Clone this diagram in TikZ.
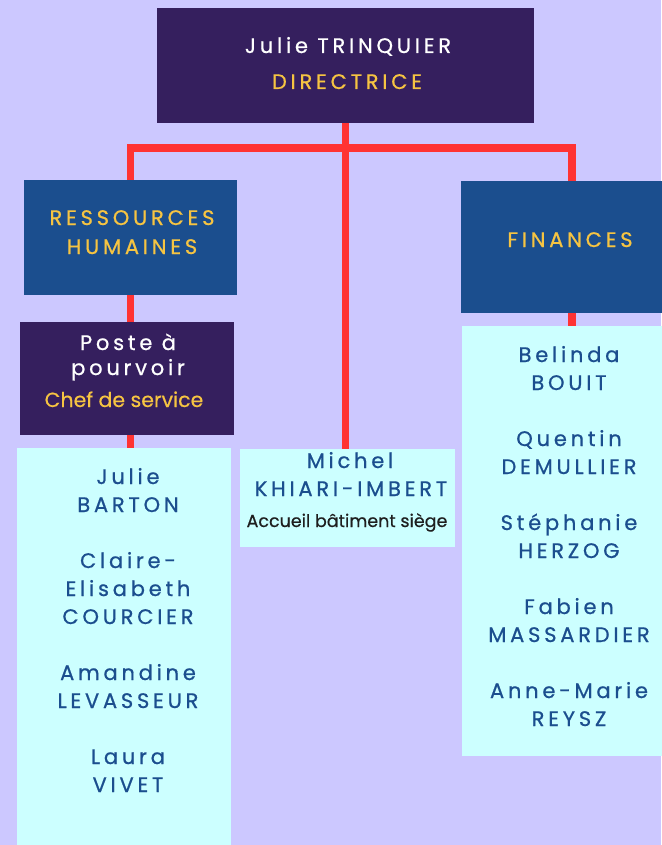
\documentclass[tikz,border=0pt]{standalone}
\usepackage{fontspec}
\setmainfont{Poppins}[FakeBold=0.5]
\newfontfamily\spaced{Poppins}[LetterSpace=18,FakeBold=0.7]
\definecolor{bg}{RGB}{204,200,255}
\definecolor{dpurple}{RGB}{53,31,94}
\definecolor{dblue}{RGB}{27,78,142}
\definecolor{gold}{RGB}{246,196,66}
\definecolor{pale}{RGB}{204,255,255}
\definecolor{redline}{RGB}{255,51,51}
\definecolor{darktext}{RGB}{30,30,30}
\tikzset{
  panel/.style={fill=#1, draw=none, inner sep=0pt, anchor=north west},
  link/.style={draw=redline, line width=7.5pt},
  lbl/.style={anchor=base, inner sep=0pt, font=\spaced\fontsize{21}{23}\selectfont},
  whitelbl/.style={lbl, text=white},
  goldlbl/.style={lbl, text=gold},
  bluelbl/.style={lbl, text=dblue},
  plainlbl/.style={anchor=base, inner sep=0pt},
}
\begin{document}
\begin{tikzpicture}[x=1pt, y=-1pt]
\useasboundingbox (0,0) rectangle (661,845);
\fill[bg] (0,0) rectangle (661,845);
% boxes
\node[panel=dpurple, minimum width=377pt, minimum height=115pt] (dir) at (157,8) {};
\node[panel=dblue, minimum width=213pt, minimum height=115pt] (rh) at (24,180) {};
\node[panel=dpurple, minimum width=214pt, minimum height=113pt] (poste) at (20,322) {};
\node[panel=pale, minimum width=214pt, minimum height=400pt] (left) at (17,448) {};
\node[panel=pale, minimum width=215pt, minimum height=98pt] (michel) at (240,449) {};
\node[panel=dblue, minimum width=222pt, minimum height=132pt] (fin) at (461,181) {};
\node[panel=pale, minimum width=220pt, minimum height=430pt] (right) at (462,326) {};
% connectors
\coordinate (bus) at (345,148);
\draw[link] (dir.south) -- (dir.south |- michel.north);
\draw[link] (rh.north) |- (bus) -| (fin.north);
\draw[link] (rh.south) -- (rh.south |- poste.north);
\draw[link] (rh.south |- poste.south) -- (rh.south |- left.north);
\draw[link] (fin.south) -- (fin.south |- right.north);
% texts: directrice
\node[whitelbl] (t1) at (348,53) {Julie TRINQUIER};
\node[goldlbl] (t2) at (347,89) {DIRECTRICE};
% RH
\node[goldlbl] (t3) at (132,225) {RESSOURCES};
\node[goldlbl] (t4) at (132,254) {HUMAINES};
% Poste
\node[whitelbl] (t5) at (128,350) {Poste à};
\node[whitelbl] (t6) at (128,375) {pourvoir};
\node[plainlbl, text=gold, font=\fontsize{20.5}{22}\selectfont] (t7) at (124,407) {Chef de service};
% left list
\node[bluelbl] (l1) at (128,484) {Julie};
\node[bluelbl] (l2) at (128,512) {BARTON};
\node[bluelbl] (l3) at (128,568) {Claire-};
\node[bluelbl] (l4) at (128,596) {Elisabeth};
\node[bluelbl] (l5) at (128,624) {COURCIER};
\node[bluelbl] (l6) at (128,680) {Amandine};
\node[bluelbl] (l7) at (128,708) {LEVASSEUR};
\node[bluelbl] (l8) at (128,764) {Laura};
\node[bluelbl] (l9) at (128,792) {VIVET};
% Michel
\node[bluelbl] (m1) at (350,468) {Michel};
\node[bluelbl] (m2) at (351,496) {KHIARI-IMBERT};
\node[plainlbl, text=darktext, font=\fontsize{17.5}{19}\selectfont] (m3) at (347,527) {Accueil bâtiment siège};
% Finances
\node[goldlbl] (f0) at (570,247) {FINANCES};
% right list
\node[bluelbl] (r1) at (569,362) {Belinda};
\node[bluelbl] (r2) at (569,390) {BOUIT};
\node[bluelbl] (r3) at (569,446) {Quentin};
\node[bluelbl] (r4) at (569,474) {DEMULLIER};
\node[bluelbl] (r5) at (569,530) {Stéphanie};
\node[bluelbl] (r6) at (569,558) {HERZOG};
\node[bluelbl] (r7) at (569,614) {Fabien};
\node[bluelbl] (r8) at (569,642) {MASSARDIER};
\node[bluelbl] (r9) at (569,698) {Anne-Marie};
\node[bluelbl] (r10) at (569,726) {REYSZ};
\end{tikzpicture}
\end{document}
